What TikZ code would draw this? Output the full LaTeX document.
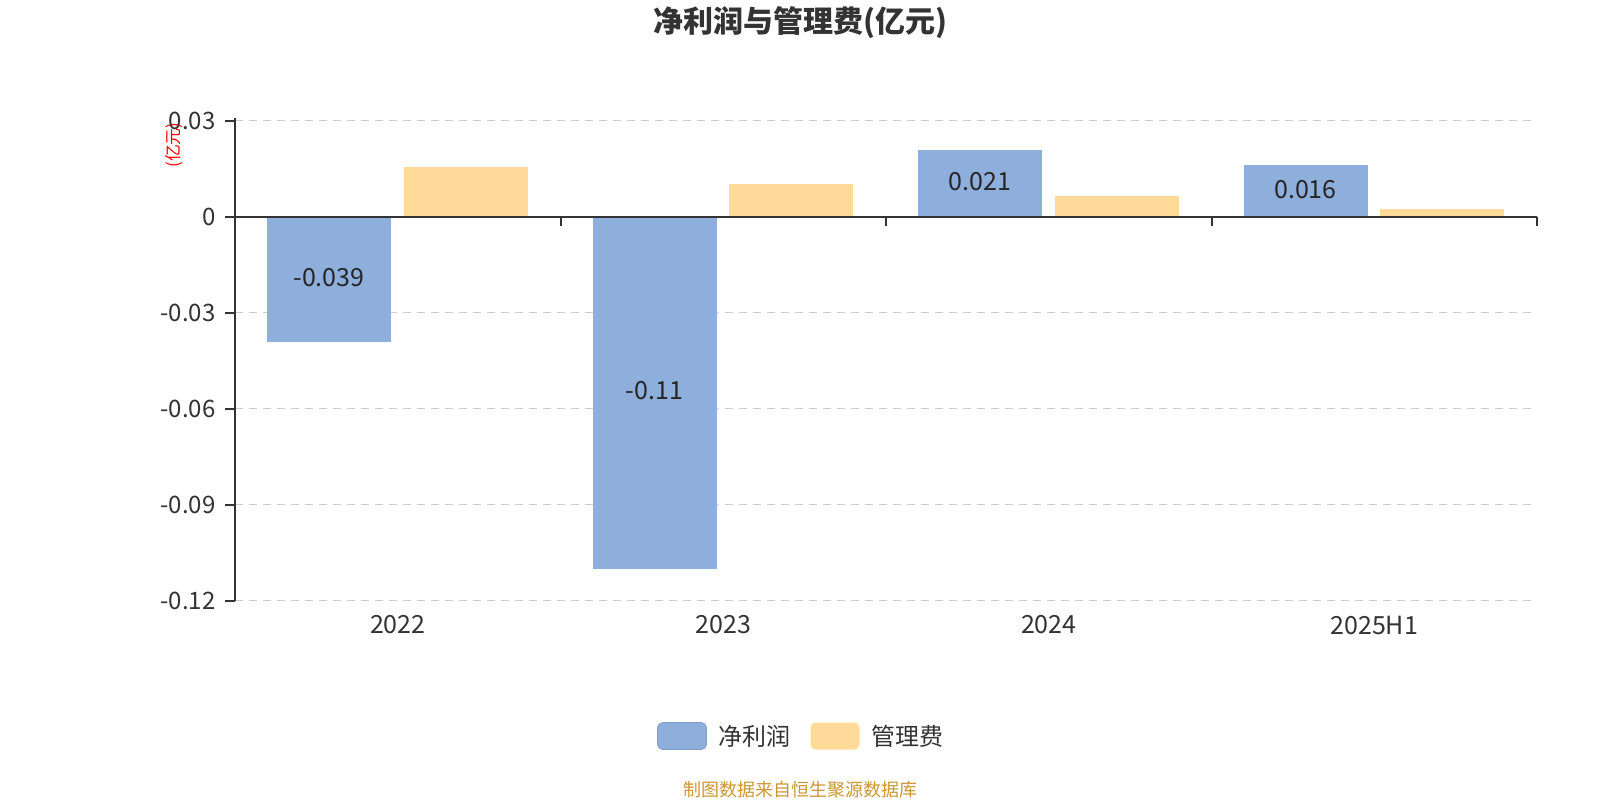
\documentclass[tikz,border=0pt]{standalone}
\usepackage{fontspec}
\setmainfont{Noto Sans CJK SC}
\usetikzlibrary{positioning,calc}
\definecolor{netblue}{RGB}{142,174,219}
\definecolor{feeorange}{RGB}{255,218,153}
\definecolor{axisgray}{RGB}{51,51,51}
\definecolor{gridgray}{RGB}{204,204,204}
\definecolor{sourcegold}{RGB}{204,150,50}

\begin{document}
\begin{tikzpicture}[
    x=0.5pt, y=-0.5pt,
    axisline/.style={axisgray, line width=1pt},
    gridline/.style={gridgray, line width=0.7pt, dash pattern=on 4pt off 3pt},
    ticklabel/.style={text=axisgray, font=\fontsize{12}{14}\selectfont, inner sep=0pt},
    barlabel/.style={text=black!85, font=\fontsize{12.5}{14}\selectfont, inner sep=0pt},
    legendbox/.style={rectangle, rounded corners=2.5pt, minimum width=24.5pt, minimum height=13.5pt, inner sep=0pt},
    legendtext/.style={text=axisgray, font=\fontsize{12}{14}\selectfont, inner sep=0pt, anchor=west}
]
    \useasboundingbox (0,0) rectangle (1600,800);

    % Title
    \node[font=\bfseries\fontsize{15}{17}\selectfont, text=axisgray] (title) at (800,23) {净利润与管理费(亿元)};
    \node[rotate=90, text=red, font=\fontsize{8.4}{10}\selectfont, inner sep=0pt] (yname) at (174,145) {(亿元)};

    % Grid lines and y ticks
    \foreach \v/\txt [count=\i] in {0.03/0.03, 0/0, -0.03/-0.03, -0.06/-0.06, -0.09/-0.09, -0.12/-0.12} {
        \pgfmathsetmacro{\yy}{216.7-3200*\v}
        \ifdim\v pt=0pt\else
            \draw[gridline] (235,\yy) -- (1537,\yy);
        \fi
        \draw[axisline] (225,\yy) -- (235,\yy);
        \node[ticklabel, anchor=east] (ytick\i) at (216,\yy) {\txt};
    }

    % Bars
    \foreach \net/\fee/\txt/\yr [count=\i from 0] in {-0.039/0.0154/-0.039/2022, -0.11/0.0103/-0.11/2023, 0.021/0.0065/0.021/2024, 0.016/0.0023/0.016/2025H1} {
        \pgfmathsetmacro{\xl}{235+325.5*\i}
        \pgfmathsetmacro{\yn}{216.7-3200*\net}
        \pgfmathsetmacro{\yf}{216.7-3200*\fee}
        \fill[netblue] (\xl+32,216.7) rectangle (\xl+156,\yn);
        \fill[feeorange] (\xl+168.5,216.7) rectangle (\xl+292.5,\yf);
        \node[barlabel] (val\i) at (\xl+94,{(216.7+\yn)/2-2}) {\txt};
        \node[ticklabel, font=\fontsize{12.5}{14}\selectfont] (year\i) at (\xl+162.75,625) {\yr};
        \draw[axisline] (\xl+325.5,216.7) -- (\xl+325.5,226);
    }

    % Axes
    \draw[axisline] (235,118) -- (235,601);
    \draw[axisline] (235,216.7) -- (1537,216.7);

    % Legend
    \node[legendbox, fill=netblue, draw=netblue!90!black, line width=0.3pt] (legnet) at (682,736) {};
    \node[legendtext, right=5.5pt of legnet] (legnettxt) {净利润};
    \node[legendbox, fill=feeorange] (legfee) at (835,736) {};
    \node[legendtext, right=5.5pt of legfee] (legfeetxt) {管理费};

    % Source
    \node[text=sourcegold, font=\fontsize{9}{11}\selectfont] (source) at (800,790) {制图数据来自恒生聚源数据库};
\end{tikzpicture}
\end{document}
